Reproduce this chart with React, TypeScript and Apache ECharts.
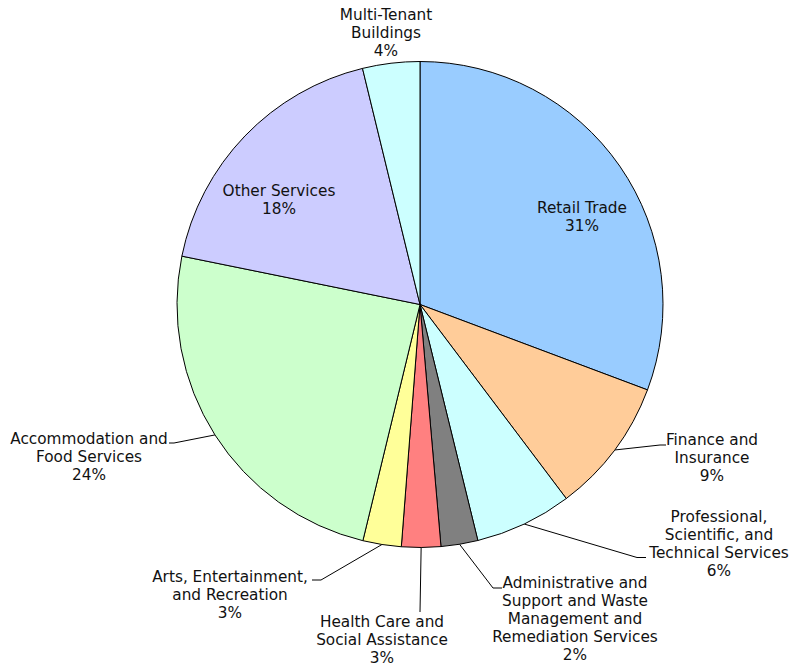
import React, { useEffect, useRef } from 'react';
import * as echarts from 'echarts';

// ---- Data ----
const categories = [
  'Retail Trade',
  'Finance and Insurance',
  'Professional, Scientific, and Technical Services',
  'Administrative and Support and Waste Management and Remediation Services',
  'Health Care and Social Assistance',
  'Arts, Entertainment, and Recreation',
  'Accommodation and Food Services',
  'Other Services',
  'Multi-Tenant Buildings',
];
const values = [30.7, 9.0, 6.45, 2.45, 2.6, 2.55, 24.4, 18.0, 3.8];
const wrappedLabels = [
  'Retail Trade',
  'Finance and\nInsurance',
  'Professional,\nScientific, and\nTechnical Services',
  'Administrative and\nSupport and Waste\nManagement and\nRemediation Services',
  'Health Care and\nSocial Assistance',
  'Arts, Entertainment,\nand Recreation',
  'Accommodation and\nFood Services',
  'Other Services',
  'Multi-Tenant\nBuildings',
];
const colors = ['#99CCFF', '#FFCC99', '#CCFFFF', '#808080', '#FF8080', '#FFFF99', '#CCFFCC', '#CCCCFF', '#CCFFFF'];

// ---- Label placement (layout only) ----
type Placement = { x: number; y: number; line?: number[][] };
const placements: Placement[] = [
  { x: 582, y: 217 },
  { x: 712, y: 458, line: [[660, 445], [666, 445]] },
  { x: 719, y: 544, line: [[637, 557.5], [646, 557.5]] },
  { x: 575, y: 619, line: [[493, 588], [502, 588]] },
  { x: 382, y: 640, line: [[420, 612], [420, 612]] },
  { x: 230, y: 595, line: [[321, 580], [312, 580]] },
  { x: 89, y: 457, line: [[174, 443], [169, 443]] },
  { x: 279, y: 200 },
  { x: 386, y: 33 },
];

export default function App() {
  const ref = useRef<HTMLDivElement>(null);
  useEffect(() => {
    if (!ref.current) return;
    const chart = echarts.init(ref.current, null, { renderer: 'svg' });
    chart.setOption({
      animation: false,
      backgroundColor: '#ffffff',
      series: [
        {
          type: 'pie',
          center: [420, 304.5],
          radius: 243,
          startAngle: 90,
          clockwise: true,
          avoidLabelOverlap: false,
          data: categories.map((name, i) => ({
            name,
            value: values[i],
            itemStyle: { color: colors[i] },
            labelLine: { show: !!placements[i].line },
          })),
          itemStyle: { borderColor: '#000', borderWidth: 1 },
          emphasis: { disabled: true },
          label: {
            show: true,
            position: 'outside',
            formatter: (p: any) => `${wrappedLabels[p.dataIndex]}\n${Math.round(p.percent)}%`,
            fontFamily: 'DejaVu Sans',
            fontSize: 15.3,
            lineHeight: 18,
            color: '#111',
            align: 'center',
          },
          labelLine: {
            show: true,
            lineStyle: { color: '#000', width: 1 },
          },
          labelLayout: (params: any) => {
            const pl = placements[params.dataIndex];
            const res: any = {
              x: pl.x,
              y: pl.y,
              align: 'center',
              verticalAlign: 'middle',
            };
            if (pl.line && params.labelLinePoints && params.labelLinePoints[0]) {
              res.labelLinePoints = [params.labelLinePoints[0], pl.line[0], pl.line[1]];
            }
            return res;
          },
        },
      ],
    });
    return () => chart.dispose();
  }, []);
  return (
    <div
      ref={ref}
      style={{ position: 'fixed', left: 0, top: 0, width: 801, height: 665 }}
    />
  );
}
